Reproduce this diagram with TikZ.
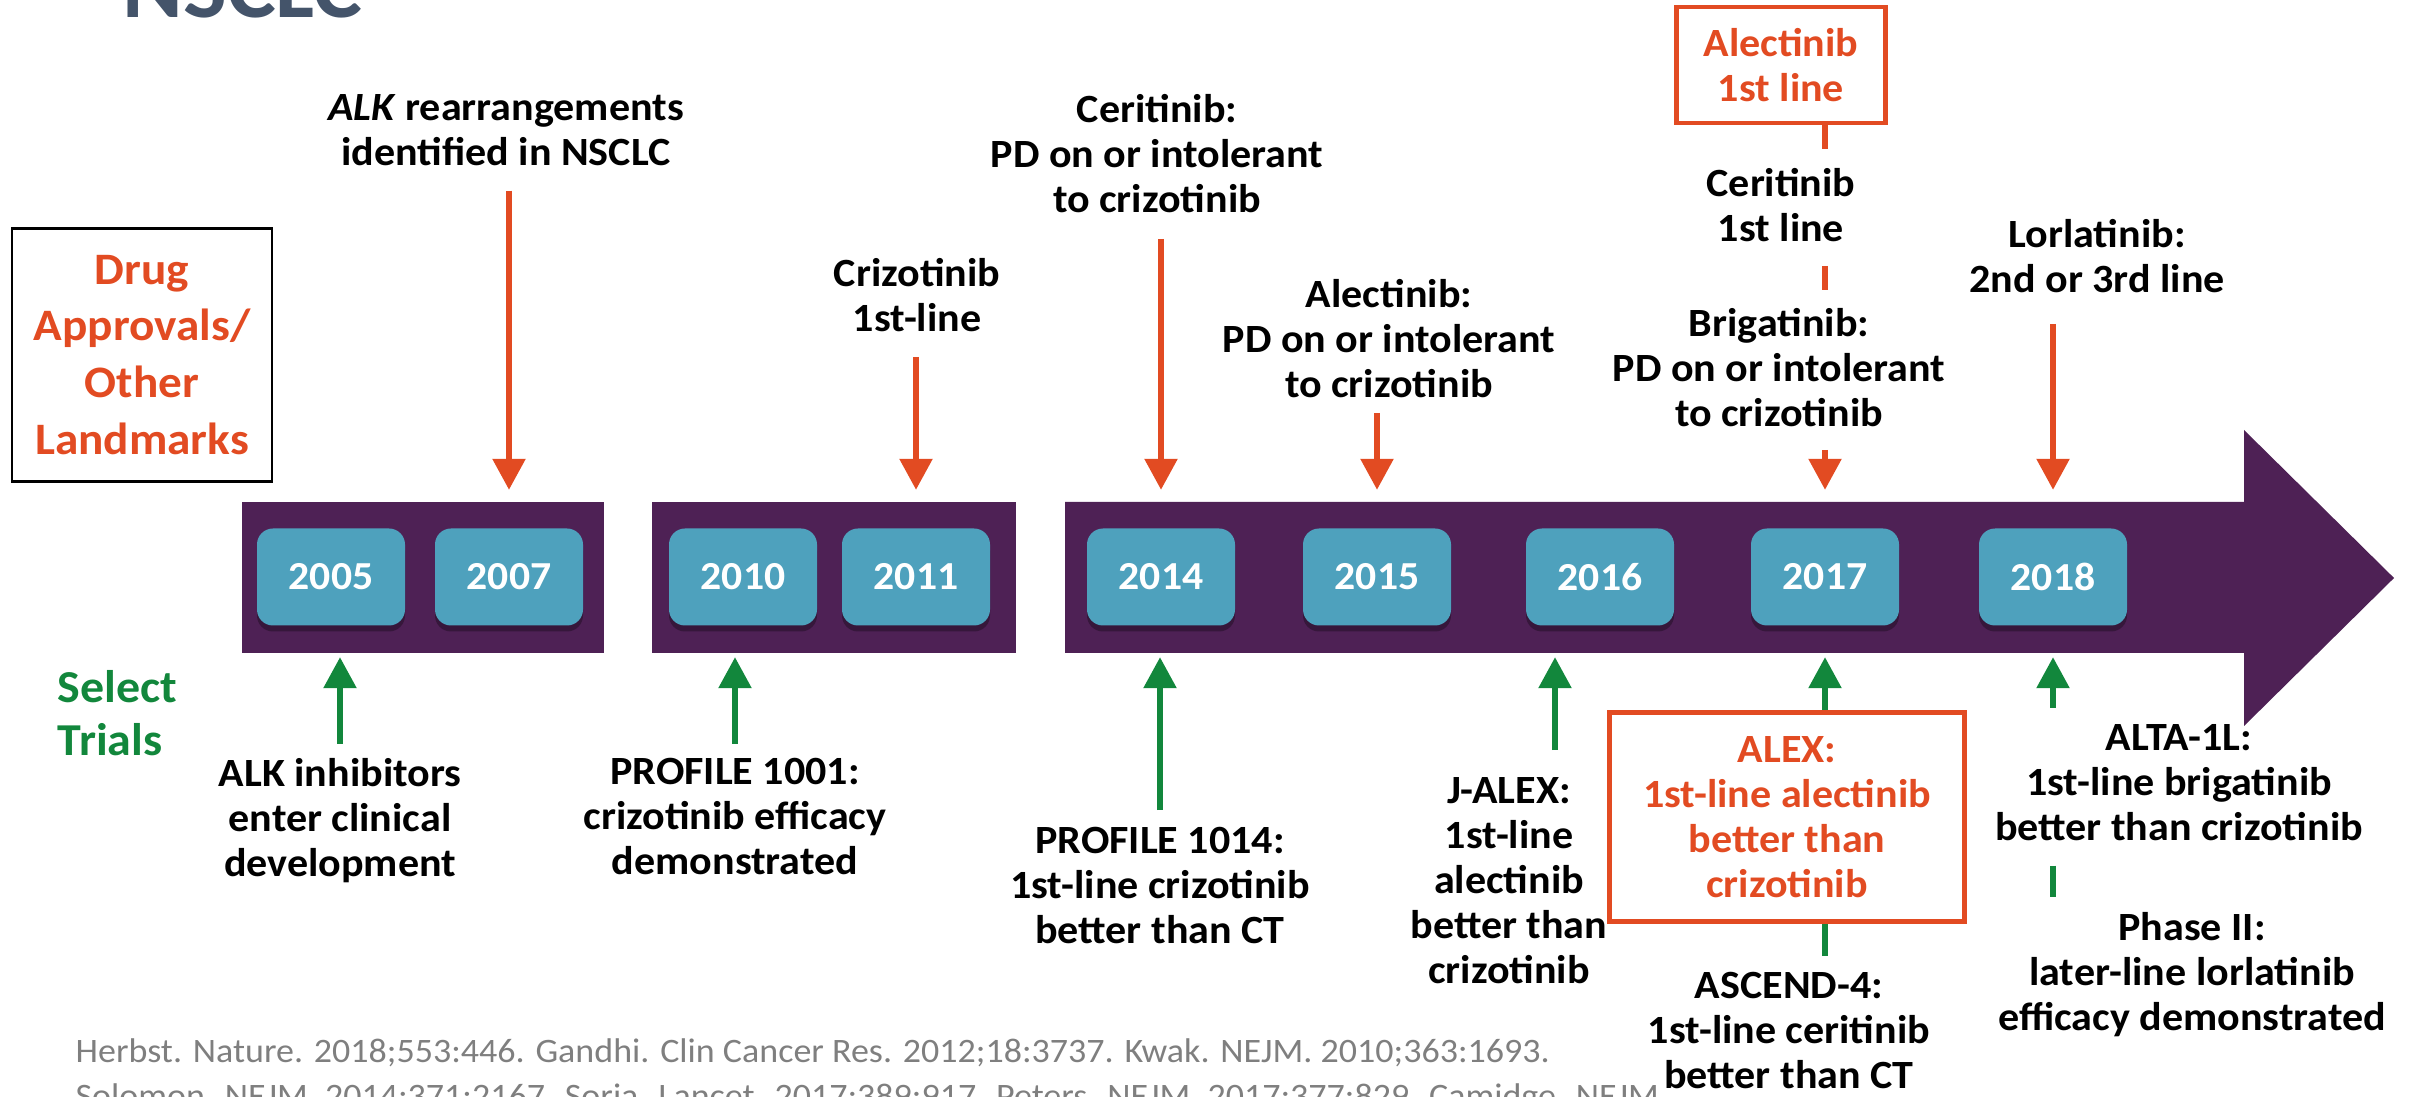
\documentclass[tikz,border=0pt]{standalone}
\usepackage{fontspec}
\setmainfont{Carlito}[FakeStretch=1.05]
\usetikzlibrary{arrows.meta,shadows}

\definecolor{tlpurple}{HTML}{4E2155}
\definecolor{tlteal}{HTML}{4EA1BD}
\definecolor{tlorange}{HTML}{E24B22}
\definecolor{tlgreen}{HTML}{12873C}
\definecolor{tlslate}{HTML}{44546A}
\definecolor{tlgray}{HTML}{7F7F7F}

\begin{document}
\begin{tikzpicture}[x=0.1mm,y=-0.1mm,
txt/.style={align=center,inner sep=0pt,anchor=north,font=\fontsize{11.4}{12.8}\selectfont\bfseries},
hilite/.style={draw=tlorange,line width=1.3pt,text=tlorange,align=center,inner sep=0pt,font=\fontsize{11.4}{12.8}\selectfont\bfseries},
year/.style={fill=tlteal,rounded corners=1.6mm,minimum width=14.8mm,minimum height=9.7mm,inner sep=0pt,
  text=white,font=\fontsize{11.3}{13}\selectfont\bfseries,
  drop shadow={fill=black,opacity=0.3,shadow xshift=0mm,shadow yshift=-0.6mm}},
drug/.style={tlorange,line width=1.6pt},
trial/.style={tlgreen,line width=1.6pt},
>={Triangle[width=3.2mm,length=3.1mm]}]
\useasboundingbox (0,0) rectangle (2412,1097);
\clip (0,0) rectangle (2412,1097);

\node[anchor=base west,inner sep=0pt,text=tlslate,font=\fontsize{25}{29}\selectfont\bfseries] (title) at (122,18) {NSCLC};

% row headings
\node[draw=black,line width=0.8pt,minimum width=26mm,minimum height=25.3mm,align=center,text=tlorange,
  font=\fontsize{12.8}{16.2}\selectfont\bfseries] (drugs) at (142,355) {Drug\\Approvals/\\Other\\Landmarks};
\node[anchor=north west,inner sep=0pt,align=left,text=tlgreen,font=\fontsize{13}{15}\selectfont\bfseries] (trials) at (57,670) {Select\\Trials};

% timeline bar
\fill[tlpurple] (242,502) rectangle (604,653);
\fill[tlpurple] (652,502) rectangle (1016,653);
\fill[tlpurple] (1065,502) -- (2244,502) -- (2244,430) -- (2394,578) -- (2244,726) -- (2244,653) -- (1065,653) -- cycle;

\foreach \yr/\x in {2005/331,2007/509,2010/743,2011/916,2014/1161,2015/1377,2016/1600,2017/1825,2018/2053}
  \node[year] (y\yr) at (\x,577) {\yr};

% approvals (above)
\node[txt] (alk) at (506,94) {\textit{ALK} rearrangements\\identified in NSCLC};
\node[txt] (crizo) at (917,258) {Crizotinib\\1st-line};
\node[txt] (ceri) at (1157,94) {Ceritinib:\\PD on or intolerant\\to crizotinib};
\node[txt] (alec) at (1389,279) {Alectinib:\\PD on or intolerant\\to crizotinib};
\node[hilite,minimum width=20.9mm,minimum height=11.6mm] (alecfirst) at (1781,65) {Alectinib\\1st line};
\node[txt] (cerifirst) at (1781,168) {Ceritinib\\1st line};
\node[txt] (briga) at (1779,308) {Brigatinib:\\PD on or intolerant\\to crizotinib};
\node[txt] (lorla) at (2097,219) {Lorlatinib:\\2nd or 3rd line};

\draw[drug,->,shorten <=2.4mm,shorten >=3.8mm] (y2007 |- alk.south) -- (y2007.north);
\draw[drug,->,shorten <=2.4mm,shorten >=3.8mm] (y2011 |- crizo.south) -- (y2011.north);
\draw[drug,->,shorten <=2.5mm,shorten >=3.8mm] (y2014 |- ceri.south) -- (y2014.north);
\draw[drug,->,shorten <=1.4mm,shorten >=3.8mm] (y2015 |- alec.south) -- (y2015.north);
\draw[drug,shorten >=1.9mm] (y2017 |- alecfirst.south) -- (y2017 |- cerifirst.north);
\draw[drug,shorten <=2.3mm,shorten >=1.8mm] (y2017 |- cerifirst.south) -- (y2017 |- briga.north);
\draw[drug,->,shorten <=2.2mm,shorten >=3.8mm] (y2017 |- briga.south) -- (y2017.north);
\draw[drug,->,shorten <=3mm,shorten >=3.8mm] (y2018 |- lorla.south) -- (y2018.north);

% trials (below)
\node[txt] (alkinh) at (340,758) {ALK inhibitors\\enter clinical\\development};
\node[txt] (prof1001) at (735,758) {PROFILE 1001:\\crizotinib efficacy\\demonstrated};
\node[txt] (prof1014) at (1160,827) {PROFILE 1014:\\1st-line crizotinib\\better than CT};
\node[txt] (jalex) at (1509,777) {J-ALEX:\\1st-line\\alectinib\\better than\\crizotinib};
\node[hilite,minimum width=35.5mm,minimum height=20.9mm] (alex) at (1787,817) {ALEX:\\1st-line alectinib\\better than\\crizotinib};
\node[txt] (ascend) at (1789,972) {ASCEND-4:\\1st-line ceritinib\\better than CT};
\node[txt] (alta) at (2179,724) {ALTA-1L:\\1st-line brigatinib\\better than crizotinib};
\node[txt] (phase) at (2192,912) {Phase II:\\later-line lorlatinib\\efficacy demonstrated};

\path ([xshift=4.6mm]jalex.north) coordinate (jx);

\draw[trial,->,shorten <=1.4mm,shorten >=3.1mm] (alkinh.north) -- (alkinh.north |- y2005.south);
\draw[trial,->,shorten <=1.4mm,shorten >=3.1mm] (prof1001.north) -- (prof1001.north |- y2010.south);
\draw[trial,->,shorten <=1.7mm,shorten >=3.1mm] (prof1014.north) -- (prof1014.north |- y2014.south);
\draw[trial,->,shorten <=2.7mm,shorten >=3.1mm] (jx) -- (jx |- y2016.south);
\draw[trial,->,shorten >=3.1mm] (y2017 |- alex.north) -- (y2017.south);
\draw[trial,shorten >=1.6mm] (y2017 |- alex.south) -- (y2017 |- ascend.north);
\draw[trial,->,shorten <=1.6mm,shorten >=3.1mm] (y2018 |- alta.north) -- (y2018.south);
\draw[trial,shorten <=2.4mm,shorten >=1.5mm] (y2018 |- alta.south) -- (y2018 |- phase.north);

\node[anchor=north west,inner sep=0pt,align=left,text=tlgray,font=\fontsize{9.75}{12.8}\selectfont] (refs) at (75,1038)
  {Herbst. Nature. 2018;553:446. Gandhi. Clin Cancer Res. 2012;18:3737. Kwak. NEJM. 2010;363:1693.\\
   Solomon. NEJM. 2014;371:2167. Soria. Lancet. 2017;389:917. Peters. NEJM. 2017;377:829. Camidge. NEJM.};
\end{tikzpicture}
\end{document}
